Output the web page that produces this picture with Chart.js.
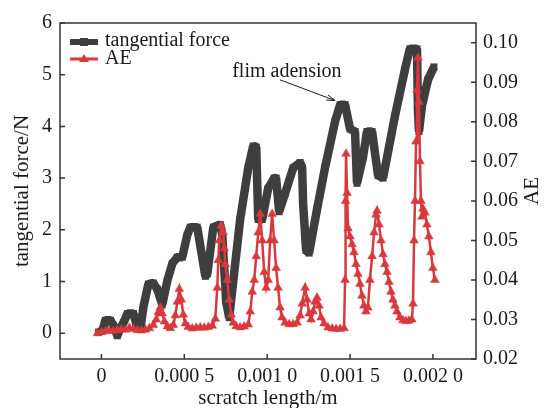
<!DOCTYPE html>
<html>
<head>
<meta charset="utf-8">
<script src="https://cdn.jsdelivr.net/npm/chart.js@4.4.1/dist/chart.umd.min.js"></script>
<style>
html,body{margin:0;padding:0;background:#fff;}
#wrap{width:546px;height:408px;}
</style>
</head>
<body>
<div id="wrap"><canvas id="c"></canvas></div>
<script>
// scratch length (m) and tangential force (N)
const forceX = [
  -0.000018, 0.000006, 0.000024, 0.000054, 0.000072, 0.000096, 0.000114, 0.000133, 0.000157, 0.000193,
  0.000217, 0.000235, 0.000253, 0.000283, 0.000313, 0.000337, 0.000367, 0.000398, 0.000428, 0.000458,
  0.000488, 0.000518, 0.000536, 0.000578, 0.000627, 0.000639, 0.000675, 0.000717, 0.000729, 0.000753,
  0.000771, 0.000795, 0.000837, 0.000886, 0.000916, 0.000934, 0.000946, 0.000970, 0.001006, 0.001042,
  0.001054, 0.001072, 0.001108, 0.001157, 0.001199, 0.001211, 0.001217, 0.001235, 0.001253, 0.001301,
  0.001349, 0.001410, 0.001440, 0.001470, 0.001500, 0.001530, 0.001542, 0.001578, 0.001602, 0.001633,
  0.001669, 0.001699, 0.001771, 0.001831, 0.001861, 0.001904, 0.001910, 0.001916, 0.001934, 0.001970,
  0.002006
];
const forceY = [
  0.02, 0.05, 0.25, 0.25, 0.15, -0.05, 0.1, 0.2, 0.38, 0.38,
  0.1, 0.08, 0.5, 0.95, 0.97, 0.85, 0.55, 1.02, 1.35, 1.47,
  1.47, 1.9, 2.05, 2.05, 1.1, 1.15, 2.05, 2.1, 1.9, 0.6,
  0.3, 1.0, 2.2, 3.2, 3.62, 3.6, 2.2, 2.2, 2.8, 3.0,
  3.0, 2.35, 2.7, 3.2, 3.3, 3.2, 2.5, 1.6, 1.55, 2.4,
  3.2, 4.1, 4.42, 4.42, 3.95, 3.9, 2.9, 3.4, 3.9, 3.9,
  3.05, 3.0, 4.2, 5.1, 5.5, 5.5, 4.3, 3.9, 4.4, 4.9,
  5.15
];

// acoustic emission signal
const aeX = [
  -0.000024, 0.000000, 0.000024, 0.000048, 0.000072, 0.000096, 0.000120, 0.000145, 0.000169, 0.000193,
  0.000217, 0.000241, 0.000265, 0.000289, 0.000313, 0.000331, 0.000343, 0.000355, 0.000367, 0.000380,
  0.000398, 0.000416, 0.000434, 0.000446, 0.000458, 0.000470, 0.000482, 0.000494, 0.000506, 0.000524,
  0.000548, 0.000572, 0.000596, 0.000620, 0.000645, 0.000669, 0.000687, 0.000699, 0.000705, 0.000711,
  0.000723, 0.000735, 0.000741, 0.000747, 0.000759, 0.000771, 0.000783, 0.000795, 0.000813, 0.000837,
  0.000861, 0.000886, 0.000898, 0.000910, 0.000922, 0.000934, 0.000946, 0.000958, 0.000970, 0.000982,
  0.000994, 0.001006, 0.001018, 0.001030, 0.001042, 0.001054, 0.001066, 0.001078, 0.001090, 0.001108,
  0.001133, 0.001157, 0.001181, 0.001199, 0.001211, 0.001229, 0.001241, 0.001253, 0.001265, 0.001277,
  0.001289, 0.001301, 0.001313, 0.001325, 0.001343, 0.001367, 0.001392, 0.001416, 0.001440, 0.001464,
  0.001470, 0.001473, 0.001476, 0.001482, 0.001488, 0.001500, 0.001512, 0.001524, 0.001536, 0.001548,
  0.001560, 0.001572, 0.001584, 0.001596, 0.001608, 0.001620, 0.001633, 0.001645, 0.001657, 0.001663,
  0.001675, 0.001687, 0.001699, 0.001711, 0.001723, 0.001735, 0.001747, 0.001759, 0.001771, 0.001783,
  0.001801, 0.001819, 0.001837, 0.001855, 0.001873, 0.001880, 0.001886, 0.001892, 0.001898, 0.001904,
  0.001910, 0.001916, 0.001922, 0.001928, 0.001934, 0.001940, 0.001952, 0.001964, 0.001976, 0.001988,
  0.002000, 0.002012
];
const aeY = [
  0.0265, 0.0268, 0.0270, 0.0272, 0.0271, 0.0273, 0.0275, 0.0274, 0.0279, 0.0276,
  0.0273, 0.0272, 0.0274, 0.0278, 0.0286, 0.0300, 0.0318, 0.0330, 0.0315, 0.0295,
  0.0282, 0.0278, 0.0286, 0.0310, 0.0345, 0.0377, 0.0350, 0.0312, 0.0290, 0.0281,
  0.0277, 0.0279, 0.0280, 0.0279, 0.0281, 0.0284, 0.0302, 0.0380, 0.0450, 0.0500,
  0.0537, 0.0520, 0.0480, 0.0440, 0.0400, 0.0350, 0.0312, 0.0292, 0.0283, 0.0280,
  0.0282, 0.0287, 0.0320, 0.0370, 0.0400, 0.0460, 0.0520, 0.0567, 0.0500, 0.0420,
  0.0380, 0.0400, 0.0500, 0.0567, 0.0500, 0.0430, 0.0380, 0.0330, 0.0305, 0.0292,
  0.0288, 0.0288, 0.0292, 0.0310, 0.0340, 0.0380, 0.0350, 0.0315, 0.0300, 0.0320,
  0.0345, 0.0355, 0.0335, 0.0305, 0.0290, 0.0280, 0.0277, 0.0276, 0.0276, 0.0278,
  0.0400, 0.0600, 0.0719, 0.0620, 0.0530, 0.0510, 0.0490, 0.0470, 0.0440, 0.0415,
  0.0390, 0.0360, 0.0335, 0.0320, 0.0330, 0.0400, 0.0460, 0.0520, 0.0565, 0.0575,
  0.0540, 0.0500, 0.0465, 0.0440, 0.0420, 0.0395, 0.0370, 0.0350, 0.0335, 0.0320,
  0.0305, 0.0298, 0.0296, 0.0297, 0.0300, 0.0340, 0.0500, 0.0600, 0.0750, 0.0880,
  0.0962, 0.0850, 0.0700, 0.0600, 0.0560, 0.0580, 0.0570, 0.0540, 0.0510, 0.0470,
  0.0430, 0.0400
];

const seriesNames = ["tangential force", "AE"];
const xTicks = [0, 0.0005, 0.001, 0.0015, 0.002];
const xTickLabels = ["0", "0.000 5", "0.001 0", "0.001 5", "0.002 0"];
const forceTicks = [0, 1, 2, 3, 4, 5, 6];
const aeTicks = [0.02, 0.03, 0.04, 0.05, 0.06, 0.07, 0.08, 0.09, 0.10];
const aeTickLabels = ["0.02", "0.03", "0.04", "0.05", "0.06", "0.07", "0.08", "0.09", "0.10"];

// annotation, in data units (x, force)
const noteText = "flim adension";
const notePos = [0.000789, 5.06];
const arrowFrom = [0.001078, 4.90];
const arrowTo = [0.001410, 4.50];

const FONT = "'Liberation Serif', 'Times New Roman', serif";
const INK = "#1a1a1a";
const GREY = "#3e3e3e";
const RED = "#d8393d";

const extras = {
  id: "extras",
  afterDraw(chart) {
    const { ctx, chartArea: a, scales } = chart;
    const x = scales.x, yl = scales.y, yr = scales.y1;
    ctx.save();

    // frame + inward ticks
    ctx.strokeStyle = "#333";
    ctx.lineWidth = 1.5;
    ctx.strokeRect(a.left, a.top, a.right - a.left, a.bottom - a.top);
    ctx.beginPath();
    xTicks.forEach(v => {
      const p = x.getPixelForValue(v);
      ctx.moveTo(p, a.bottom); ctx.lineTo(p, a.bottom - 5);
    });
    forceTicks.forEach(v => {
      const p = yl.getPixelForValue(v);
      ctx.moveTo(a.left, p); ctx.lineTo(a.left + 5, p);
    });
    aeTicks.forEach(v => {
      const p = yr.getPixelForValue(v);
      ctx.moveTo(a.right, p); ctx.lineTo(a.right - 5, p);
    });
    ctx.stroke();

    // legend
    const lx = a.left + 10, ly = a.top + 19;
    ctx.strokeStyle = GREY; ctx.lineWidth = 6;
    ctx.beginPath(); ctx.moveTo(lx, ly); ctx.lineTo(lx + 28, ly); ctx.stroke();
    ctx.fillStyle = GREY;
    ctx.fillRect(lx + 10, ly - 4, 8, 8);
    ctx.strokeStyle = RED; ctx.lineWidth = 3;
    ctx.beginPath(); ctx.moveTo(lx, ly + 17); ctx.lineTo(lx + 28, ly + 17); ctx.stroke();
    ctx.fillStyle = RED;
    ctx.beginPath();
    ctx.moveTo(lx + 14, ly + 12); ctx.lineTo(lx + 19, ly + 20); ctx.lineTo(lx + 9, ly + 20);
    ctx.closePath(); ctx.fill();
    ctx.fillStyle = INK;
    ctx.font = "20px " + FONT;
    ctx.textBaseline = "middle";
    ctx.textAlign = "left";
    ctx.fillText(seriesNames[0], lx + 35, ly - 1);
    ctx.fillText(seriesNames[1], lx + 35, ly + 17);

    // annotation
    ctx.fillText(noteText, x.getPixelForValue(notePos[0]), yl.getPixelForValue(notePos[1]));
    const x0 = x.getPixelForValue(arrowFrom[0]), y0 = yl.getPixelForValue(arrowFrom[1]);
    const x1 = x.getPixelForValue(arrowTo[0]), y1 = yl.getPixelForValue(arrowTo[1]);
    ctx.strokeStyle = INK; ctx.lineWidth = 1;
    ctx.beginPath(); ctx.moveTo(x0, y0); ctx.lineTo(x1, y1); ctx.stroke();
    const ang = Math.atan2(y1 - y0, x1 - x0);
    ctx.beginPath();
    ctx.moveTo(x1, y1);
    ctx.lineTo(x1 - 9 * Math.cos(ang - 0.3), y1 - 9 * Math.sin(ang - 0.3));
    ctx.moveTo(x1, y1);
    ctx.lineTo(x1 - 9 * Math.cos(ang + 0.3), y1 - 9 * Math.sin(ang + 0.3));
    ctx.stroke();

    // right axis title, reading upward
    ctx.translate(532, (a.top + a.bottom) / 2);
    ctx.rotate(-Math.PI / 2);
    ctx.textAlign = "center";
    ctx.font = "21px " + FONT;
    ctx.fillText(seriesNames[1], 0, 0);
    ctx.restore();
  }
};

const tickFont = { family: FONT, size: 20 };

new Chart(document.getElementById("c"), {
  type: "line",
  data: {
    datasets: [
      {
        label: seriesNames[0],
        data: forceX.map((v, i) => ({ x: v, y: forceY[i] })),
        yAxisID: "y",
        order: 2,
        borderColor: GREY,
        backgroundColor: GREY,
        borderWidth: 8.5,
        borderJoinStyle: "bevel",
        pointStyle: "rect",
        pointRadius: 5,
        pointBorderWidth: 0,
        tension: 0
      },
      {
        label: seriesNames[1],
        data: aeX.map((v, i) => ({ x: v, y: aeY[i] })),
        yAxisID: "y1",
        order: 1,
        borderColor: RED,
        backgroundColor: RED,
        borderWidth: 2.5,
        pointStyle: "triangle",
        pointRadius: 5,
        pointBorderWidth: 0.5,
        tension: 0
      }
    ]
  },
  options: {
    responsive: true,
    maintainAspectRatio: false,
    animation: false,
    devicePixelRatio: 1,
    layout: { padding: { top: 23, left: 0, right: 0, bottom: 0 } },
    plugins: {
      legend: { display: false },
      tooltip: { enabled: false }
    },
    scales: {
      x: {
        type: "linear",
        min: -0.00025,
        max: 0.00226,
        grid: { display: false, drawTicks: false },
        border: { display: false },
        afterBuildTicks: s => { s.ticks = xTicks.map(v => ({ value: v })); },
        afterFit: s => { s.height = 49; },
        ticks: {
          color: INK, font: tickFont, padding: 6, maxRotation: 0, autoSkip: false,
          callback: (v, i) => xTickLabels[i]
        },
        title: {
          display: true, text: "scratch length/m", color: INK,
          font: { family: FONT, size: 21, lineHeight: 0.9 }, padding: 0
        }
      },
      y: {
        position: "left",
        min: -0.5,
        max: 6,
        grid: { display: false, drawTicks: false },
        border: { display: false },
        afterBuildTicks: s => { s.ticks = forceTicks.map(v => ({ value: v })); },
        afterFit: s => { s.width = 60; },
        ticks: { color: INK, font: tickFont, padding: 8, callback: v => String(v) },
        title: {
          display: true, text: "tangential force/N", color: INK,
          font: { family: FONT, size: 21, lineHeight: 1.2 }, padding: { top: 10, bottom: 0 }
        }
      },
      y1: {
        position: "right",
        min: 0.02,
        max: 0.105,
        grid: { display: false, drawTicks: false },
        border: { display: false },
        afterBuildTicks: s => { s.ticks = aeTicks.map(v => ({ value: v })); },
        afterFit: s => { s.width = 70; },
        ticks: { color: INK, font: tickFont, padding: 7, callback: (v, i) => aeTickLabels[i] },
        title: { display: false }
      }
    }
  },
  plugins: [extras]
});
</script>
</body>
</html>
